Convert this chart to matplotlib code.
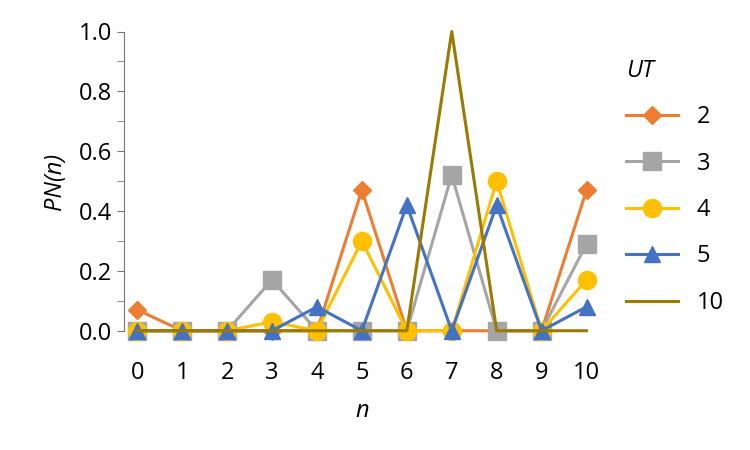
import matplotlib
matplotlib.use("Agg")
import matplotlib.pyplot as plt

n = list(range(11))
ut2 = [0.07, 0, 0, 0, 0, 0.47, 0, 0, 0, 0, 0.47]
ut3 = [0, 0, 0, 0.17, 0, 0, 0, 0.52, 0, 0, 0.29]
ut4 = [0, 0, 0, 0.03, 0, 0.30, 0, 0, 0.50, 0, 0.17]
ut5 = [0, 0, 0, 0, 0.08, 0, 0.42, 0, 0.42, 0, 0.08]
ut10 = [0, 0, 0, 0, 0, 0, 0, 1.0, 0, 0, 0]

plt.rcParams['font.family'] = ['Open Sans', 'DejaVu Sans']
plt.rcParams['font.size'] = 17

fig = plt.figure(figsize=(7.5, 4.5), dpi=100)
ax = fig.add_axes([0.165, 0.265, 0.635, 0.665])

ax.plot(n, ut2, color='#ED7D31', marker='D', markersize=9, lw=2.2, label='2')
ax.plot(n, ut3, color='#A5A5A5', marker='s', markersize=13, lw=2.2, label='3')
ax.plot(n, ut4, color='#FFC000', marker='o', markersize=13, lw=2.2, label='4')
ax.plot(n, ut5, color='#4472C4', marker='^', markersize=12, lw=2.2, label='5')
ax.plot(n, ut10, color='#9C7A00', lw=2.2, label='10')

ax.set_xlim(-0.3, 10.3)
ax.set_ylim(0, 1.0)
ax.set_xticks(n)
ax.set_yticks([0, 0.2, 0.4, 0.6, 0.8, 1.0])
ax.set_yticks([0.1, 0.3, 0.5, 0.7, 0.9], minor=True)
ax.yaxis.set_major_formatter(matplotlib.ticker.FormatStrFormatter('%.1f'))
ax.tick_params(axis='y', which='both', direction='out', length=5, color='#777777')
ax.tick_params(axis='x', length=0, pad=22)
for s in ['top', 'right', 'bottom']:
    ax.spines[s].set_visible(False)
ax.spines['left'].set_color('#777777')
for l in ax.lines:
    l.set_clip_on(False)

ax.set_xlabel('n', style='italic', labelpad=10)
ax.set_ylabel('PN(n)', style='italic', labelpad=8)

leg = ax.legend(loc='upper left', bbox_to_anchor=(1.01, 0.98), frameon=False,
                title='UT', handlelength=2.2, labelspacing=0.95, fontsize=17)
leg.get_title().set_fontstyle('italic')
leg.get_title().set_fontsize(17)
leg._legend_box.align = 'left'

fig.savefig('out.png')
